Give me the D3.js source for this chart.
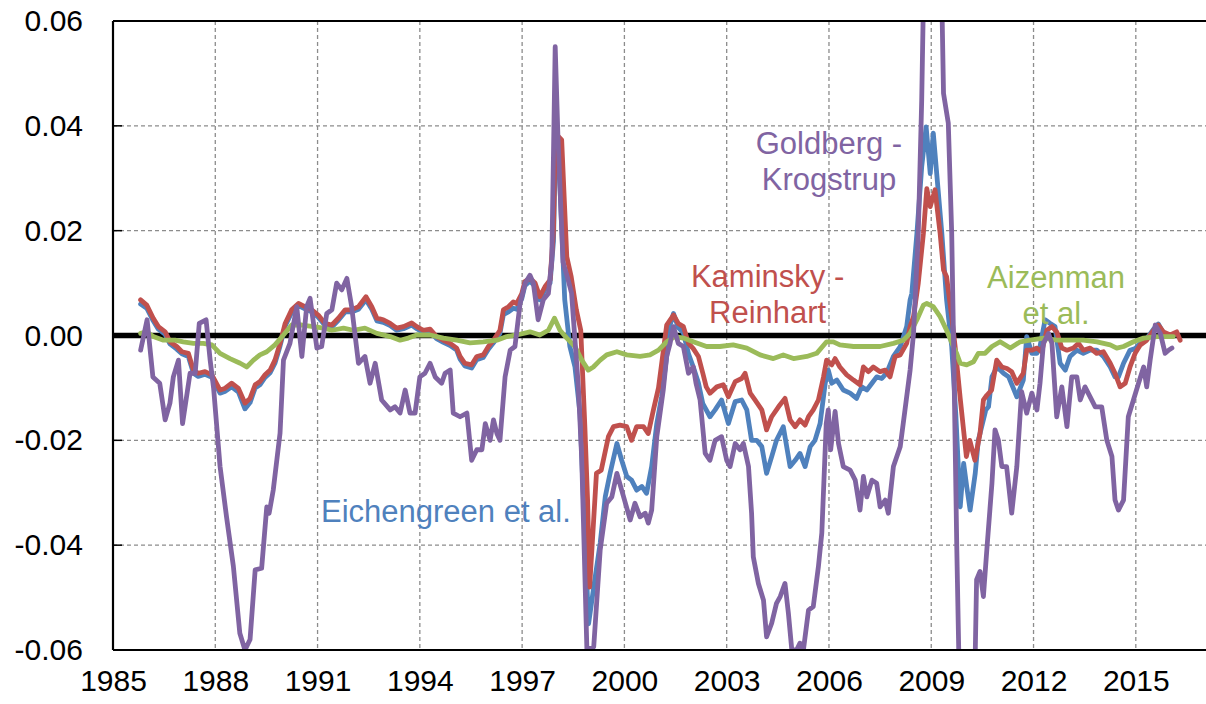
<!DOCTYPE html>
<html>
<head>
<meta charset="utf-8">
<script src="https://cdn.jsdelivr.net/npm/d3@7"></script>
<style>
  html, body { margin: 0; padding: 0; background: #fff; }
  svg { display: block; font-family: "Liberation Sans", Arial, sans-serif; }
</style>
</head>
<body>
<svg id="chart" width="1206" height="704"></svg>
<script>
// ---- data (year, value) ----
const xTickYears = [1985, 1988, 1991, 1994, 1997, 2000, 2003, 2006, 2009, 2012, 2015];
const yTickValues = [-0.06, -0.04, -0.02, 0, 0.02, 0.04, 0.06];

const eichengreen = [[1985.81,0.0060],[1985.99,0.0052],[1986.18,0.0028],[1986.33,0.0012],[1986.53,0.0002],[1986.67,-0.0016],[1986.87,-0.0026],[1987.02,-0.0035],[1987.21,-0.0040],[1987.36,-0.0072],[1987.5,-0.0078],[1987.7,-0.0074],[1987.9,-0.0080],[1988.14,-0.0110],[1988.28,-0.0107],[1988.48,-0.0098],[1988.68,-0.0108],[1988.87,-0.0140],[1989.02,-0.0128],[1989.17,-0.0100],[1989.31,-0.0094],[1989.46,-0.0080],[1989.61,-0.0071],[1989.75,-0.0053],[1989.9,-0.0020],[1990.05,0.0018],[1990.24,0.0044],[1990.44,0.0057],[1990.63,0.0051],[1990.83,0.0045],[1991.02,0.0035],[1991.22,0.0019],[1991.42,0.0016],[1991.61,0.0029],[1991.81,0.0045],[1992.0,0.0045],[1992.2,0.0050],[1992.42,0.0068],[1992.59,0.0050],[1992.74,0.0028],[1992.93,0.0025],[1993.13,0.0019],[1993.32,0.0010],[1993.52,0.0013],[1993.76,0.0020],[1993.91,0.0013],[1994.1,0.0006],[1994.3,0.0008],[1994.49,-0.0006],[1994.69,-0.0013],[1994.89,-0.0019],[1995.08,-0.0028],[1995.18,-0.0045],[1995.32,-0.0058],[1995.52,-0.0062],[1995.67,-0.0046],[1995.86,-0.0042],[1996.01,-0.0026],[1996.16,-0.0014],[1996.35,0.0004],[1996.45,0.0040],[1996.6,0.0045],[1996.74,0.0052],[1996.84,0.0050],[1996.99,0.0070],[1997.08,0.0095],[1997.23,0.0104],[1997.38,0.0094],[1997.52,0.0068],[1997.67,0.0088],[1997.82,0.0100],[1997.92,0.0180],[1997.97,0.0330],[1998.1,0.0300],[1998.25,0.0068],[1998.4,-0.0021],[1998.55,-0.0060],[1998.7,-0.0150],[1998.85,-0.0400],[1998.95,-0.0550],[1999.1,-0.0480],[1999.29,-0.0396],[1999.44,-0.0307],[1999.58,-0.0263],[1999.78,-0.0206],[1999.92,-0.0238],[2000.07,-0.0269],[2000.21,-0.0276],[2000.36,-0.0295],[2000.51,-0.0288],[2000.65,-0.0301],[2000.8,-0.0250],[2000.95,-0.0168],[2001.09,-0.0117],[2001.24,-0.0040],[2001.34,0.0020],[2001.44,0.0042],[2001.58,0.0015],[2001.73,0.0005],[2001.88,-0.0035],[2002.02,-0.0060],[2002.17,-0.0090],[2002.3,-0.0130],[2002.51,-0.0155],[2002.66,-0.0142],[2002.85,-0.0123],[2003.05,-0.0168],[2003.25,-0.0126],[2003.44,-0.0123],[2003.59,-0.0142],[2003.73,-0.0200],[2003.88,-0.0200],[2004.03,-0.0212],[2004.17,-0.0263],[2004.32,-0.0231],[2004.46,-0.0200],[2004.66,-0.0174],[2004.86,-0.0250],[2005.01,-0.0238],[2005.15,-0.0225],[2005.3,-0.0250],[2005.45,-0.0212],[2005.59,-0.0200],[2005.74,-0.0168],[2005.89,-0.0091],[2005.98,-0.0066],[2006.08,-0.0091],[2006.23,-0.0085],[2006.42,-0.0104],[2006.62,-0.0110],[2006.81,-0.0120],[2006.96,-0.0098],[2007.11,-0.0104],[2007.26,-0.0091],[2007.4,-0.0079],[2007.55,-0.0082],[2007.69,-0.0072],[2007.89,-0.0040],[2008.09,-0.0021],[2008.28,0.0017],[2008.38,0.0068],[2008.43,0.0080],[2008.58,0.0195],[2008.72,0.0322],[2008.85,0.0398],[2008.97,0.0309],[2009.06,0.0386],[2009.16,0.0309],[2009.31,0.0195],[2009.45,0.0068],[2009.6,-0.0021],[2009.72,-0.0150],[2009.85,-0.0327],[2009.95,-0.0244],[2010.04,-0.0288],[2010.14,-0.0333],[2010.29,-0.0263],[2010.38,-0.0200],[2010.6,-0.0142],[2010.68,-0.0136],[2010.78,-0.0079],[2010.93,-0.0060],[2011.12,-0.0072],[2011.27,-0.0079],[2011.51,-0.0117],[2011.7,-0.0085],[2011.8,-0.0002],[2011.95,-0.0034],[2012.1,-0.0034],[2012.19,-0.0021],[2012.34,0.0030],[2012.49,0.0023],[2012.63,0.0017],[2012.78,-0.0053],[2012.93,-0.0066],[2013.07,-0.0040],[2013.27,-0.0028],[2013.46,-0.0034],[2013.66,-0.0028],[2013.86,-0.0028],[2014.05,-0.0040],[2014.25,-0.0060],[2014.39,-0.0079],[2014.49,-0.0079],[2014.64,-0.0053],[2014.83,-0.0028],[2014.98,-0.0025],[2015.13,-0.0015],[2015.32,-0.0006],[2015.52,0.0012],[2015.66,0.0022],[2015.81,0.0005],[2016.01,-0.0002],[2016.2,0.0004]];

const kaminsky = [[1985.81,0.0068],[1985.99,0.0058],[1986.18,0.0033],[1986.33,0.0017],[1986.53,0.0007],[1986.67,-0.0012],[1986.87,-0.0021],[1987.02,-0.0031],[1987.21,-0.0034],[1987.36,-0.0066],[1987.5,-0.0072],[1987.7,-0.0069],[1987.9,-0.0075],[1988.14,-0.0104],[1988.28,-0.0101],[1988.48,-0.0091],[1988.68,-0.0101],[1988.87,-0.0129],[1989.02,-0.0120],[1989.17,-0.0094],[1989.31,-0.0088],[1989.46,-0.0075],[1989.61,-0.0066],[1989.75,-0.0047],[1989.9,-0.0015],[1990.05,0.0023],[1990.24,0.0049],[1990.44,0.0061],[1990.63,0.0055],[1990.83,0.0049],[1991.02,0.0039],[1991.22,0.0023],[1991.42,0.0020],[1991.61,0.0033],[1991.81,0.0049],[1992.0,0.0049],[1992.2,0.0055],[1992.42,0.0074],[1992.59,0.0055],[1992.74,0.0033],[1992.93,0.0030],[1993.13,0.0023],[1993.32,0.0014],[1993.52,0.0017],[1993.76,0.0024],[1993.91,0.0017],[1994.1,0.0010],[1994.3,0.0012],[1994.49,-0.0002],[1994.69,-0.0009],[1994.89,-0.0015],[1995.08,-0.0024],[1995.18,-0.0040],[1995.32,-0.0053],[1995.52,-0.0056],[1995.67,-0.0040],[1995.86,-0.0037],[1996.01,-0.0021],[1996.16,-0.0009],[1996.35,0.0010],[1996.45,0.0049],[1996.6,0.0055],[1996.74,0.0064],[1996.84,0.0061],[1996.99,0.0080],[1997.08,0.0103],[1997.23,0.0109],[1997.38,0.0100],[1997.52,0.0074],[1997.67,0.0093],[1997.82,0.0106],[1997.92,0.0200],[1997.97,0.0386],[1998.16,0.0373],[1998.31,0.0150],[1998.44,0.0112],[1998.59,0.0049],[1998.72,0.0010],[1998.84,-0.0174],[1998.92,-0.0314],[1998.98,-0.0480],[1999.18,-0.0263],[1999.32,-0.0257],[1999.53,-0.0193],[1999.68,-0.0174],[1999.87,-0.0171],[2000.07,-0.0174],[2000.21,-0.0200],[2000.36,-0.0174],[2000.56,-0.0174],[2000.7,-0.0187],[2000.85,-0.0142],[2001.0,-0.0100],[2001.14,-0.0030],[2001.24,0.0020],[2001.44,0.0039],[2001.58,0.0023],[2001.73,0.0017],[2001.88,-0.0015],[2002.02,-0.0025],[2002.17,-0.0040],[2002.3,-0.0072],[2002.4,-0.0098],[2002.51,-0.0110],[2002.71,-0.0098],[2002.9,-0.0094],[2003.05,-0.0117],[2003.25,-0.0088],[2003.44,-0.0082],[2003.54,-0.0072],[2003.69,-0.0110],[2003.83,-0.0123],[2004.03,-0.0142],[2004.17,-0.0180],[2004.32,-0.0155],[2004.52,-0.0136],[2004.71,-0.0120],[2004.86,-0.0161],[2005.01,-0.0174],[2005.15,-0.0161],[2005.3,-0.0171],[2005.4,-0.0155],[2005.54,-0.0142],[2005.69,-0.0123],[2005.84,-0.0079],[2005.93,-0.0047],[2006.08,-0.0056],[2006.18,-0.0044],[2006.32,-0.0060],[2006.52,-0.0075],[2006.72,-0.0085],[2006.91,-0.0094],[2007.01,-0.0060],[2007.16,-0.0069],[2007.3,-0.0060],[2007.5,-0.0069],[2007.65,-0.0066],[2007.79,-0.0079],[2007.94,-0.0040],[2008.09,-0.0037],[2008.28,-0.0015],[2008.38,0.0017],[2008.48,0.0036],[2008.62,0.0100],[2008.77,0.0195],[2008.87,0.0280],[2008.97,0.0246],[2009.11,0.0278],[2009.26,0.0195],[2009.36,0.0125],[2009.45,0.0112],[2009.6,0.0036],[2009.7,-0.0021],[2009.85,-0.0120],[2009.98,-0.0200],[2010.03,-0.0231],[2010.13,-0.0200],[2010.28,-0.0238],[2010.43,-0.0187],[2010.53,-0.0123],[2010.63,-0.0114],[2010.77,-0.0104],[2010.92,-0.0047],[2011.07,-0.0060],[2011.22,-0.0063],[2011.36,-0.0069],[2011.51,-0.0091],[2011.7,-0.0072],[2011.8,-0.0028],[2011.95,-0.0028],[2012.1,-0.0024],[2012.24,-0.0031],[2012.39,0.0010],[2012.54,0.0017],[2012.68,0.0007],[2012.83,-0.0024],[2012.98,-0.0028],[2013.17,-0.0024],[2013.32,-0.0015],[2013.46,-0.0028],[2013.66,-0.0024],[2013.85,-0.0034],[2014.05,-0.0031],[2014.25,-0.0053],[2014.39,-0.0072],[2014.54,-0.0098],[2014.69,-0.0091],[2014.83,-0.0060],[2014.98,-0.0034],[2015.13,-0.0018],[2015.32,-0.0009],[2015.52,0.0010],[2015.66,0.0020],[2015.81,0.0007],[2016.01,0.0001],[2016.2,0.0007],[2016.3,-0.0009]];

const aizenman = [[1985.81,0.0004],[1985.99,0.0007],[1986.18,-0.0002],[1986.48,-0.0009],[1986.82,-0.0009],[1987.06,-0.0012],[1987.36,-0.0015],[1987.65,-0.0015],[1987.9,-0.0018],[1988.14,-0.0034],[1988.43,-0.0044],[1988.73,-0.0053],[1988.92,-0.0060],[1989.12,-0.0047],[1989.31,-0.0037],[1989.51,-0.0031],[1989.75,-0.0018],[1990.0,0.0001],[1990.24,0.0020],[1990.54,0.0020],[1990.88,0.0017],[1991.17,0.0014],[1991.42,0.0010],[1991.76,0.0014],[1992.05,0.0010],[1992.39,0.0014],[1992.74,0.0004],[1993.13,-0.0002],[1993.42,-0.0009],[1993.66,-0.0005],[1993.91,0.0001],[1994.3,0.0001],[1994.69,-0.0005],[1995.08,-0.0009],[1995.47,-0.0014],[1995.86,-0.0012],[1996.26,-0.0009],[1996.55,-0.0002],[1996.84,0.0001],[1997.23,0.0007],[1997.52,0.0001],[1997.77,0.0010],[1997.95,0.0033],[1998.11,0.0010],[1998.31,-0.0005],[1998.55,-0.0021],[1998.75,-0.0047],[1998.94,-0.0066],[1999.09,-0.0060],[1999.29,-0.0047],[1999.48,-0.0037],[1999.78,-0.0031],[2000.07,-0.0037],[2000.46,-0.0040],[2000.75,-0.0037],[2001.0,-0.0028],[2001.24,-0.0012],[2001.49,-0.0002],[2001.73,-0.0005],[2002.02,-0.0012],[2002.41,-0.0021],[2002.8,-0.0021],[2003.19,-0.0018],[2003.59,-0.0024],[2003.98,-0.0037],[2004.37,-0.0044],[2004.66,-0.0037],[2004.96,-0.0044],[2005.35,-0.0040],[2005.64,-0.0034],[2005.93,-0.0012],[2006.13,-0.0012],[2006.32,-0.0018],[2006.72,-0.0021],[2007.1,-0.0021],[2007.5,-0.0021],[2007.89,-0.0015],[2008.18,-0.0009],[2008.38,0.0004],[2008.58,0.0030],[2008.77,0.0058],[2008.87,0.0061],[2009.06,0.0055],[2009.26,0.0036],[2009.45,0.0010],[2009.65,-0.0021],[2009.75,-0.0035],[2009.85,-0.0053],[2010.04,-0.0056],[2010.24,-0.0050],[2010.38,-0.0034],[2010.58,-0.0034],[2010.78,-0.0021],[2011.02,-0.0012],[2011.32,-0.0024],[2011.61,-0.0012],[2011.9,-0.0009],[2012.29,-0.0005],[2012.68,-0.0009],[2013.07,-0.0009],[2013.46,-0.0009],[2013.86,-0.0012],[2014.25,-0.0018],[2014.44,-0.0024],[2014.64,-0.0021],[2014.93,-0.0012],[2015.23,-0.0005],[2015.62,-0.0002],[2016.01,-0.0002],[2016.1,-0.0002]];

const goldberg = [[1985.81,-0.0028],[1986.0,0.0030],[1986.17,-0.0079],[1986.37,-0.0091],[1986.53,-0.0161],[1986.67,-0.0129],[1986.77,-0.0079],[1986.92,-0.0047],[1987.04,-0.0168],[1987.26,-0.0072],[1987.41,-0.0072],[1987.53,0.0023],[1987.73,0.0030],[1987.85,-0.0047],[1987.95,-0.0100],[1988.14,-0.0250],[1988.33,-0.0346],[1988.53,-0.0440],[1988.72,-0.0568],[1988.87,-0.0600],[1989.02,-0.0580],[1989.17,-0.0447],[1989.36,-0.0444],[1989.51,-0.0327],[1989.58,-0.0339],[1989.7,-0.0295],[1989.9,-0.0186],[1990.0,-0.0047],[1990.19,-0.0015],[1990.39,0.0055],[1990.54,-0.0040],[1990.68,0.0055],[1990.78,0.0071],[1990.98,-0.0024],[1991.12,-0.0021],[1991.27,0.0042],[1991.42,0.0049],[1991.56,0.0100],[1991.71,0.0087],[1991.86,0.0109],[1992.0,0.0055],[1992.2,-0.0053],[1992.39,-0.0040],[1992.54,-0.0091],[1992.69,-0.0053],[1992.88,-0.0123],[1993.13,-0.0142],[1993.27,-0.0136],[1993.42,-0.0148],[1993.57,-0.0104],[1993.71,-0.0148],[1993.86,-0.0148],[1994.0,-0.0079],[1994.15,-0.0072],[1994.3,-0.0053],[1994.45,-0.0079],[1994.64,-0.0091],[1994.74,-0.0072],[1994.89,-0.0066],[1994.98,-0.0148],[1995.18,-0.0155],[1995.38,-0.0148],[1995.52,-0.0238],[1995.67,-0.0218],[1995.82,-0.0218],[1995.92,-0.0168],[1996.06,-0.0200],[1996.16,-0.0161],[1996.26,-0.0187],[1996.35,-0.0200],[1996.5,-0.0079],[1996.65,-0.0028],[1996.79,-0.0021],[1996.94,0.0061],[1997.09,0.0100],[1997.23,0.0115],[1997.33,0.0100],[1997.47,0.0030],[1997.62,0.0068],[1997.77,0.0080],[1997.87,0.0144],[1997.97,0.0551],[1998.05,0.0380],[1998.2,0.0140],[1998.35,0.0106],[1998.45,0.0081],[1998.65,-0.0098],[1998.75,-0.0238],[1998.9,-0.0600],[1999.1,-0.0594],[1999.29,-0.0409],[1999.48,-0.0320],[1999.63,-0.0308],[1999.78,-0.0263],[1999.92,-0.0295],[2000.17,-0.0352],[2000.31,-0.0320],[2000.46,-0.0346],[2000.61,-0.0339],[2000.7,-0.0358],[2000.8,-0.0333],[2000.95,-0.0193],[2001.14,-0.0104],[2001.24,-0.0040],[2001.34,-0.0015],[2001.44,0.0017],[2001.58,-0.0015],[2001.73,-0.0021],[2001.88,-0.0072],[2002.02,-0.0060],[2002.1,-0.0091],[2002.22,-0.0123],[2002.37,-0.0225],[2002.51,-0.0238],[2002.66,-0.0200],[2002.85,-0.0193],[2003.0,-0.0238],[2003.1,-0.0250],[2003.25,-0.0206],[2003.39,-0.0218],[2003.49,-0.0206],[2003.64,-0.0250],[2003.73,-0.0339],[2003.78,-0.0422],[2003.93,-0.0473],[2004.08,-0.0505],[2004.17,-0.0575],[2004.32,-0.0549],[2004.46,-0.0511],[2004.57,-0.0498],[2004.71,-0.0473],[2004.81,-0.0530],[2004.91,-0.0600],[2005.05,-0.0600],[2005.15,-0.0587],[2005.25,-0.0600],[2005.4,-0.0524],[2005.54,-0.0517],[2005.69,-0.0441],[2005.79,-0.0377],[2005.92,-0.0168],[2005.98,-0.0142],[2006.05,-0.0218],[2006.18,-0.0145],[2006.28,-0.0206],[2006.42,-0.0250],[2006.62,-0.0257],[2006.77,-0.0276],[2006.91,-0.0333],[2007.01,-0.0269],[2007.11,-0.0308],[2007.26,-0.0276],[2007.4,-0.0282],[2007.5,-0.0327],[2007.65,-0.0314],[2007.74,-0.0339],[2007.89,-0.0250],[2008.09,-0.0212],[2008.23,-0.0142],[2008.38,-0.0066],[2008.48,0.0004],[2008.62,0.0195],[2008.72,0.0449],[2008.8,0.0750],[2009.0,0.0850],[2009.28,0.0750],[2009.36,0.0462],[2009.5,0.0405],[2009.6,0.0195],[2009.65,0.0004],[2009.75,-0.0409],[2009.85,-0.0750],[2010.25,-0.0750],[2010.33,-0.0466],[2010.43,-0.0450],[2010.53,-0.0498],[2010.63,-0.0409],[2010.78,-0.0282],[2010.87,-0.0180],[2010.97,-0.0200],[2011.07,-0.0250],[2011.21,-0.0250],[2011.36,-0.0339],[2011.51,-0.0250],[2011.65,-0.0107],[2011.8,-0.0148],[2011.95,-0.0110],[2012.1,-0.0142],[2012.19,-0.0091],[2012.29,-0.0015],[2012.44,0.0004],[2012.54,-0.0015],[2012.68,-0.0155],[2012.83,-0.0098],[2012.98,-0.0174],[2013.12,-0.0079],[2013.27,-0.0079],[2013.37,-0.0123],[2013.51,-0.0098],[2013.66,-0.0117],[2013.81,-0.0136],[2014.0,-0.0136],[2014.15,-0.0200],[2014.3,-0.0231],[2014.39,-0.0314],[2014.49,-0.0333],[2014.64,-0.0314],[2014.78,-0.0155],[2014.93,-0.0123],[2015.08,-0.0091],[2015.23,-0.0060],[2015.32,-0.0098],[2015.42,-0.0047],[2015.57,0.0020],[2015.72,0.0004],[2015.86,-0.0034],[2015.96,-0.0028],[2016.06,-0.0024]];

const seriesNames = ["Eichengreen et al.", "Kaminsky - Reinhart", "Aizenman et al.", "Goldberg - Krogstrup"];
const seriesColors = ["#4F81BD", "#C0504D", "#9BBB59", "#8064A2"];

// ---- drawing ----
(function () {
const svg = d3.select("#chart");
const W = 1206;
const pL = 113, pR = 1204, pT = 21, pB = 650;

const x = d3.scaleLinear().domain([1985, 2017]).range([pL, pR]);
const y = d3.scaleLinear().domain([-0.06, 0.06]).range([pB, pT]);

svg.append("defs").append("clipPath").attr("id", "plotclip")
  .append("rect").attr("x", pL).attr("y", pT).attr("width", W - pL).attr("height", pB - pT);

// grid lines
const grid = svg.append("g").attr("stroke", "#8c8c8c").attr("stroke-width", 1.3).attr("stroke-dasharray", "4,3");
grid.selectAll("line.v").data(xTickYears.filter(d => d > 1985)).join("line").attr("class", "v")
  .attr("x1", d => x(d)).attr("x2", d => x(d)).attr("y1", pT).attr("y2", pB);
grid.selectAll("line.h").data(yTickValues.filter(d => d !== 0 && Math.abs(d) < 0.06)).join("line").attr("class", "h")
  .attr("x1", pL).attr("x2", W).attr("y1", d => y(d)).attr("y2", d => y(d));

// zero line
svg.append("line").attr("x1", pL).attr("x2", W).attr("y1", y(0)).attr("y2", y(0))
  .attr("stroke", "#000").attr("stroke-width", 5.5);

// axes
const fmtY = d => d3.format(".2f")(d).replace("\u2212", "-");
const yAxis = d3.axisLeft(y).tickValues(yTickValues).tickFormat(fmtY).tickSize(0).tickPadding(30);
const gy = svg.append("g").attr("transform", `translate(${pL},0)`).call(yAxis);
gy.select(".domain").remove();
gy.selectAll("text").attr("font-size", 30).attr("fill", "#000")
  .attr("font-family", "Liberation Sans, Arial, sans-serif");

const xAxis = d3.axisBottom(x).tickValues(xTickYears).tickFormat(d3.format("d")).tickSize(0).tickPadding(20);
const gx = svg.append("g").attr("transform", `translate(0,${pB})`).call(xAxis);
gx.select(".domain").remove();
gx.selectAll("text").attr("font-size", 30).attr("fill", "#000")
  .attr("font-family", "Liberation Sans, Arial, sans-serif");

// inner tick marks on the value axis
svg.append("g").selectAll("line").data(yTickValues).join("line")
  .attr("x1", pL).attr("x2", pL + 9).attr("y1", d => y(d)).attr("y2", d => y(d))
  .attr("stroke", "#000").attr("stroke-width", 1.5);

// series
const line = d3.line().x(d => x(d[0])).y(d => y(d[1]));
const allSeries = [eichengreen, kaminsky, aizenman, goldberg];
svg.append("g").attr("clip-path", "url(#plotclip)")
  .selectAll("path").data(allSeries).join("path")
  .attr("d", line)
  .attr("fill", "none")
  .attr("stroke", (d, i) => seriesColors[i])
  .attr("stroke-width", 4.8)
  .attr("stroke-linejoin", "round")
  .attr("stroke-linecap", "round");

// plot border (top, left, bottom)
const border = svg.append("g").attr("stroke", "#000").attr("stroke-width", 2.2);
border.append("line").attr("x1", pL).attr("x2", W).attr("y1", pT).attr("y2", pT);
border.append("line").attr("x1", pL).attr("x2", pL).attr("y1", pT).attr("y2", pB);
border.append("line").attr("x1", pL).attr("x2", W).attr("y1", pB).attr("y2", pB);

// series labels
const labels = [
  { lines: ["Eichengreen et al."], year: 1991.1, value: -0.0356, anchor: "start", series: 0 },
  { lines: ["Kaminsky -", "Reinhart"], year: 2004.2, value: 0.0092, anchor: "middle", series: 1 },
  { lines: ["Aizenman", "et al."], year: 2012.66, value: 0.0090, anchor: "middle", series: 2 },
  { lines: ["Goldberg -", "Krogstrup"], year: 2006.0, value: 0.0346, anchor: "middle", series: 3 }
];
const lg = svg.append("g").attr("font-size", 31).attr("font-family", "Liberation Sans, Arial, sans-serif");
labels.forEach(l => {
  const t = lg.append("text").attr("x", x(l.year)).attr("y", y(l.value))
    .attr("text-anchor", l.anchor).attr("fill", seriesColors[l.series]);
  l.lines.forEach((s, i) => {
    t.append("tspan").attr("x", x(l.year)).attr("dy", i === 0 ? 0 : 36).text(s);
  });
});
})();
</script>
</body>
</html>
